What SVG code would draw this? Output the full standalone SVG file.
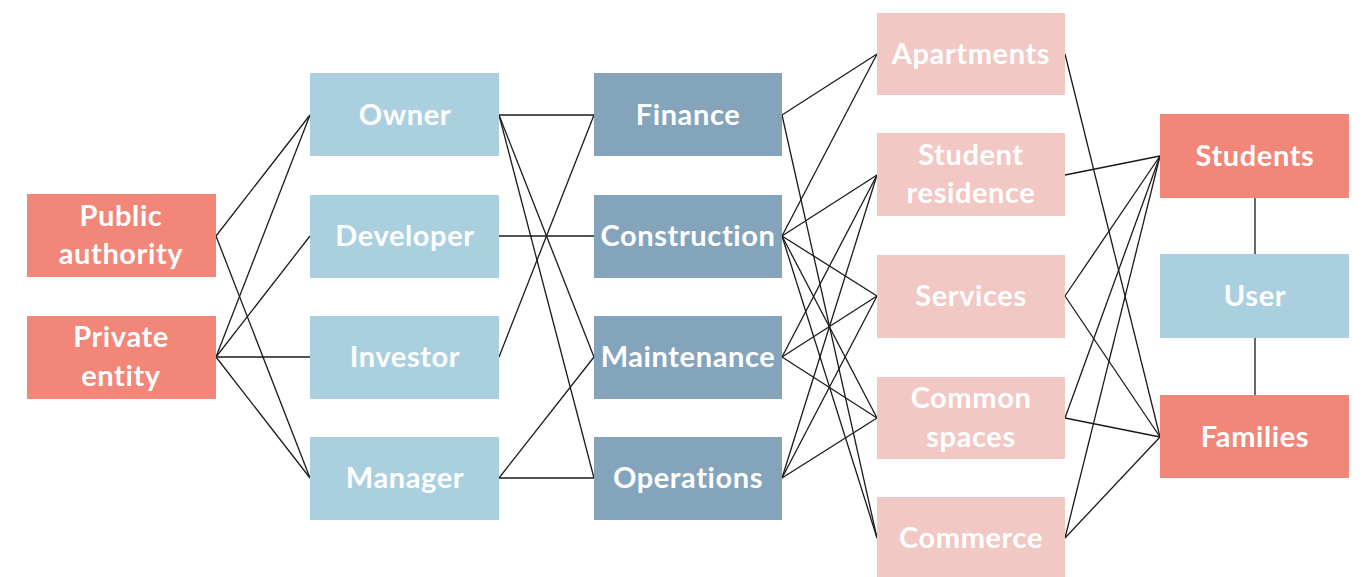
<svg xmlns="http://www.w3.org/2000/svg" width="1366" height="577" viewBox="0 0 1366 577">
<style>
rect{stroke:none}
.a{fill:#F28678}
.b{fill:#AAD0DF}
.c{fill:#84A4BB}
.d{fill:#F2C8C4}
text{font-family:"Lato","Liberation Sans",sans-serif;font-weight:bold;font-size:29px;letter-spacing:0.6px;fill:#FFFFFF;text-anchor:middle}
.e line{stroke:#1a1a1a;stroke-width:1.3}
</style>
<rect width="1366" height="577" fill="#FFFFFF"/>
<g class="e" id="connectors">
<line x1="216" y1="236" x2="310" y2="115"/>
<line x1="216" y1="236" x2="310" y2="478"/>
<line x1="216" y1="357" x2="310" y2="115"/>
<line x1="216" y1="357" x2="310" y2="236"/>
<line x1="216" y1="357" x2="310" y2="357"/>
<line x1="216" y1="357" x2="310" y2="478"/>
<line x1="499" y1="115" x2="594" y2="115"/>
<line x1="499" y1="115" x2="594" y2="357"/>
<line x1="499" y1="115" x2="594" y2="478"/>
<line x1="499" y1="236" x2="594" y2="236"/>
<line x1="499" y1="357" x2="594" y2="115"/>
<line x1="499" y1="478" x2="594" y2="357"/>
<line x1="499" y1="478" x2="594" y2="478"/>
<line x1="782" y1="115" x2="877" y2="54"/>
<line x1="782" y1="115" x2="877" y2="538"/>
<line x1="782" y1="236" x2="877" y2="54"/>
<line x1="782" y1="236" x2="877" y2="175"/>
<line x1="782" y1="236" x2="877" y2="296"/>
<line x1="782" y1="236" x2="877" y2="418"/>
<line x1="782" y1="236" x2="877" y2="538"/>
<line x1="782" y1="357" x2="877" y2="175"/>
<line x1="782" y1="357" x2="877" y2="296"/>
<line x1="782" y1="357" x2="877" y2="418"/>
<line x1="782" y1="478" x2="877" y2="175"/>
<line x1="782" y1="478" x2="877" y2="296"/>
<line x1="782" y1="478" x2="877" y2="418"/>
<line x1="1065" y1="54" x2="1160" y2="437"/>
<line x1="1065" y1="175" x2="1160" y2="156"/>
<line x1="1065" y1="296" x2="1160" y2="156"/>
<line x1="1065" y1="296" x2="1160" y2="437"/>
<line x1="1065" y1="418" x2="1160" y2="156"/>
<line x1="1065" y1="418" x2="1160" y2="437"/>
<line x1="1065" y1="538" x2="1160" y2="156"/>
<line x1="1065" y1="538" x2="1160" y2="437"/>
<line x1="1255" y1="198" x2="1255" y2="254"/>
<line x1="1255" y1="338" x2="1255" y2="395"/>
</g>
<g id="public-authority"><rect class="a" x="27" y="194" width="189" height="83"/><text x="121" y="226">Public</text><text x="121" y="264">authority</text></g>
<g id="private-entity"><rect class="a" x="27" y="316" width="189" height="83"/><text x="121" y="347">Private</text><text x="121" y="386">entity</text></g>
<g id="owner"><rect class="b" x="310" y="73" width="189" height="83"/><text x="405" y="125">Owner</text></g>
<g id="developer"><rect class="b" x="310" y="195" width="189" height="83"/><text x="405" y="246">Developer</text></g>
<g id="investor"><rect class="b" x="310" y="316" width="189" height="83"/><text x="405" y="367">Investor</text></g>
<g id="manager"><rect class="b" x="310" y="437" width="189" height="83"/><text x="405" y="488">Manager</text></g>
<g id="finance"><rect class="c" x="594" y="73" width="188" height="83"/><text x="688" y="125">Finance</text></g>
<g id="construction"><rect class="c" x="594" y="195" width="188" height="83"/><text x="688" y="246">Construction</text></g>
<g id="maintenance"><rect class="c" x="594" y="316" width="188" height="83"/><text x="688" y="367">Maintenance</text></g>
<g id="operations"><rect class="c" x="594" y="437" width="188" height="83"/><text x="688" y="488">Operations</text></g>
<g id="apartments"><rect class="d" x="877" y="13" width="188" height="82"/><text x="971" y="64">Apartments</text></g>
<g id="student-residence"><rect class="d" x="877" y="133" width="188" height="83"/><text x="971" y="165">Student</text><text x="971" y="203">residence</text></g>
<g id="services"><rect class="d" x="877" y="255" width="188" height="83"/><text x="971" y="306">Services</text></g>
<g id="common-spaces"><rect class="d" x="877" y="377" width="188" height="82"/><text x="971" y="408">Common</text><text x="971" y="447">spaces</text></g>
<g id="commerce"><rect class="d" x="877" y="497" width="188" height="80"/><text x="971" y="548">Commerce</text></g>
<g id="students"><rect class="a" x="1160" y="114" width="189" height="84"/><text x="1255" y="166">Students</text></g>
<g id="user"><rect class="b" x="1160" y="254" width="189" height="84"/><text x="1255" y="306">User</text></g>
<g id="families"><rect class="a" x="1160" y="395" width="189" height="83"/><text x="1255" y="447">Families</text></g>
</svg>
